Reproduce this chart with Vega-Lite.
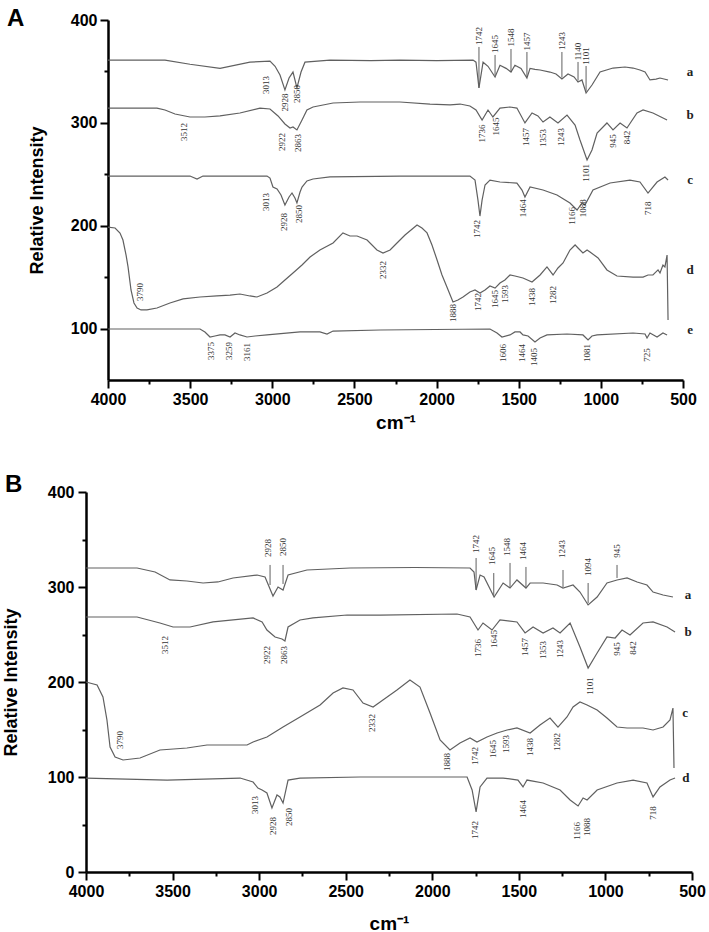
{
  "$schema": "https://vega.github.io/schema/vega-lite/v6.json",
  "padding": {"left": 2, "top": 7, "right": 0, "bottom": 0},
  "background": "white",
  "spacing": 41,
  "config": {
    "view": {"stroke": null},
    "axis": {"domainColor": "black", "domainWidth": 2.5, "tickColor": "black", "tickWidth": 2, "labelFont": "Liberation Sans", "labelFontWeight": "bold", "labelFontSize": 16, "labelColor": "black", "titleFont": "Liberation Sans", "titleFontWeight": "bold", "titleColor": "black", "grid": false, "labelOverlap": false, "labelFlush": false},
    "title": {"font": "Liberation Sans", "fontSize": 24, "fontWeight": "bold", "anchor": "start", "frame": "group", "color": "black", "baseline": "alphabetic"}
  },
  "datasets": {
    "A_lines": [
      {"s":"a","w":4000,"v":361},{"s":"a","w":3653,"v":361},{"s":"a","w":3501,"v":357},{"s":"a","w":3318,"v":353},{"s":"a","w":3136,"v":359},{"s":"a","w":3014,"v":360},{"s":"a","w":2983,"v":355},{"s":"a","w":2953,"v":346.5},{"s":"a","w":2923,"v":332},{"s":"a","w":2898,"v":343.6},{"s":"a","w":2874,"v":349.4},{"s":"a","w":2850,"v":334},{"s":"a","w":2825,"v":349.4},{"s":"a","w":2801,"v":359},{"s":"a","w":2649,"v":361},{"s":"a","w":2400,"v":360.5},{"s":"a","w":2223,"v":361},{"s":"a","w":2000,"v":360.5},{"s":"a","w":1778,"v":361},{"s":"a","w":1760,"v":359},{"s":"a","w":1742,"v":334},{"s":"a","w":1717,"v":359},{"s":"a","w":1687,"v":355},{"s":"a","w":1644,"v":344.6},{"s":"a","w":1614,"v":356},{"s":"a","w":1577,"v":353},{"s":"a","w":1547,"v":349.4},{"s":"a","w":1523,"v":356},{"s":"a","w":1486,"v":353},{"s":"a","w":1450,"v":343.6},{"s":"a","w":1431,"v":353},{"s":"a","w":1401,"v":352},{"s":"a","w":1370,"v":351.4},{"s":"a","w":1310,"v":349.4},{"s":"a","w":1273,"v":347.5},{"s":"a","w":1237,"v":342.6},{"s":"a","w":1200,"v":347.5},{"s":"a","w":1163,"v":344.6},{"s":"a","w":1139,"v":339.7},{"s":"a","w":1115,"v":341.7},{"s":"a","w":1090,"v":329},{"s":"a","w":1054,"v":336.8},{"s":"a","w":1005,"v":349.4},{"s":"a","w":926,"v":353.3},{"s":"a","w":853,"v":354.3},{"s":"a","w":804,"v":353.3},{"s":"a","w":762,"v":351.4},{"s":"a","w":731,"v":349.4},{"s":"a","w":701,"v":341.7},{"s":"a","w":664,"v":342.6},{"s":"a","w":640,"v":343.6},{"s":"a","w":591,"v":341.7},
      {"s":"b","w":4000,"v":314.4},{"s":"b","w":3702,"v":314.4},{"s":"b","w":3653,"v":312.5},{"s":"b","w":3592,"v":308.6},{"s":"b","w":3501,"v":305.7},{"s":"b","w":3410,"v":305.7},{"s":"b","w":3318,"v":306.7},{"s":"b","w":3197,"v":309.6},{"s":"b","w":3075,"v":314.4},{"s":"b","w":3014,"v":313.5},{"s":"b","w":2965,"v":306.7},{"s":"b","w":2923,"v":298.9},{"s":"b","w":2892,"v":295},{"s":"b","w":2874,"v":296},{"s":"b","w":2850,"v":293.1},{"s":"b","w":2819,"v":302.8},{"s":"b","w":2789,"v":312.5},{"s":"b","w":2752,"v":315.4},{"s":"b","w":2630,"v":319.3},{"s":"b","w":2466,"v":320.3},{"s":"b","w":2223,"v":320.3},{"s":"b","w":2040,"v":318.3},{"s":"b","w":1918,"v":317.4},{"s":"b","w":1857,"v":318.3},{"s":"b","w":1797,"v":316.4},{"s":"b","w":1760,"v":312.5},{"s":"b","w":1723,"v":302.8},{"s":"b","w":1687,"v":312.5},{"s":"b","w":1657,"v":305.7},{"s":"b","w":1614,"v":314.4},{"s":"b","w":1553,"v":315.4},{"s":"b","w":1511,"v":314.4},{"s":"b","w":1462,"v":299.9},{"s":"b","w":1419,"v":309.6},{"s":"b","w":1383,"v":306.7},{"s":"b","w":1352,"v":300.8},{"s":"b","w":1310,"v":305.7},{"s":"b","w":1261,"v":299.9},{"s":"b","w":1206,"v":307.6},{"s":"b","w":1157,"v":297.9},{"s":"b","w":1127,"v":283.3},{"s":"b","w":1084,"v":263.9},{"s":"b","w":1054,"v":273.6},{"s":"b","w":1023,"v":290.1},{"s":"b","w":963,"v":299.9},{"s":"b","w":926,"v":293.1},{"s":"b","w":883,"v":299.9},{"s":"b","w":841,"v":295},{"s":"b","w":780,"v":309.6},{"s":"b","w":743,"v":312.5},{"s":"b","w":683,"v":309.6},{"s":"b","w":597,"v":302.8},
      {"s":"c","w":4000,"v":248.3},{"s":"c","w":3501,"v":248.3},{"s":"c","w":3458,"v":245.4},{"s":"c","w":3422,"v":248.3},{"s":"c","w":3032,"v":248.3},{"s":"c","w":3014,"v":246.3},{"s":"c","w":2996,"v":237.6},{"s":"c","w":2971,"v":235.7},{"s":"c","w":2947,"v":229.9},{"s":"c","w":2923,"v":220.1},{"s":"c","w":2898,"v":227.9},{"s":"c","w":2880,"v":231.8},{"s":"c","w":2862,"v":226.9},{"s":"c","w":2850,"v":222.1},{"s":"c","w":2831,"v":232.8},{"s":"c","w":2819,"v":237.6},{"s":"c","w":2789,"v":243.5},{"s":"c","w":2752,"v":245.4},{"s":"c","w":2649,"v":247.4},{"s":"c","w":2223,"v":248.3},{"s":"c","w":1797,"v":248.3},{"s":"c","w":1766,"v":244.4},{"s":"c","w":1748,"v":224.9},{"s":"c","w":1736,"v":209.4},{"s":"c","w":1723,"v":224.9},{"s":"c","w":1705,"v":239.6},{"s":"c","w":1675,"v":244.4},{"s":"c","w":1614,"v":242.5},{"s":"c","w":1511,"v":241.5},{"s":"c","w":1480,"v":234.7},{"s":"c","w":1462,"v":227.9},{"s":"c","w":1431,"v":237.6},{"s":"c","w":1352,"v":234.7},{"s":"c","w":1267,"v":229.9},{"s":"c","w":1188,"v":222.1},{"s":"c","w":1145,"v":215.3},{"s":"c","w":1115,"v":222.1},{"s":"c","w":1097,"v":220.1},{"s":"c","w":1048,"v":234.7},{"s":"c","w":944,"v":241.5},{"s":"c","w":823,"v":244.4},{"s":"c","w":762,"v":242.5},{"s":"c","w":713,"v":231.8},{"s":"c","w":658,"v":242.5},{"s":"c","w":610,"v":247.4},{"s":"c","w":591,"v":244.4},
      {"s":"d","w":4000,"v":198.7},{"s":"d","w":3957,"v":197.8},{"s":"d","w":3927,"v":192.9},{"s":"d","w":3909,"v":186.1},{"s":"d","w":3890,"v":171.5},{"s":"d","w":3878,"v":159.9},{"s":"d","w":3860,"v":137.5},{"s":"d","w":3842,"v":124.9},{"s":"d","w":3823,"v":120},{"s":"d","w":3799,"v":118.1},{"s":"d","w":3763,"v":118.1},{"s":"d","w":3702,"v":120},{"s":"d","w":3623,"v":124.9},{"s":"d","w":3543,"v":128.8},{"s":"d","w":3440,"v":130.7},{"s":"d","w":3337,"v":131.7},{"s":"d","w":3257,"v":132.6},{"s":"d","w":3197,"v":133.6},{"s":"d","w":3136,"v":131.7},{"s":"d","w":3093,"v":130.7},{"s":"d","w":3032,"v":134.6},{"s":"d","w":2971,"v":140.4},{"s":"d","w":2923,"v":147.2},{"s":"d","w":2874,"v":154},{"s":"d","w":2819,"v":161.8},{"s":"d","w":2770,"v":169.6},{"s":"d","w":2710,"v":176.4},{"s":"d","w":2630,"v":183.2},{"s":"d","w":2570,"v":193},{"s":"d","w":2527,"v":190},{"s":"d","w":2484,"v":190},{"s":"d","w":2423,"v":186.1},{"s":"d","w":2363,"v":176.4},{"s":"d","w":2326,"v":173.5},{"s":"d","w":2283,"v":176.4},{"s":"d","w":2241,"v":183.2},{"s":"d","w":2192,"v":191},{"s":"d","w":2119,"v":200.7},{"s":"d","w":2089,"v":197.8},{"s":"d","w":2058,"v":193},{"s":"d","w":2028,"v":181.3},{"s":"d","w":1997,"v":166.7},{"s":"d","w":1967,"v":152.1},{"s":"d","w":1937,"v":140.4},{"s":"d","w":1900,"v":125.8},{"s":"d","w":1870,"v":127.7},{"s":"d","w":1839,"v":130.7},{"s":"d","w":1797,"v":135.6},{"s":"d","w":1766,"v":137.5},{"s":"d","w":1736,"v":134.6},{"s":"d","w":1705,"v":137.5},{"s":"d","w":1675,"v":141.4},{"s":"d","w":1644,"v":139.4},{"s":"d","w":1614,"v":144.3},{"s":"d","w":1584,"v":147.2},{"s":"d","w":1553,"v":152.1},{"s":"d","w":1523,"v":151.1},{"s":"d","w":1474,"v":149.2},{"s":"d","w":1419,"v":145.3},{"s":"d","w":1370,"v":152.1},{"s":"d","w":1328,"v":159.9},{"s":"d","w":1291,"v":152.1},{"s":"d","w":1261,"v":158.9},{"s":"d","w":1230,"v":163.8},{"s":"d","w":1188,"v":176.4},{"s":"d","w":1157,"v":181.3},{"s":"d","w":1139,"v":178.3},{"s":"d","w":1109,"v":173.5},{"s":"d","w":1084,"v":176.4},{"s":"d","w":1066,"v":174.5},{"s":"d","w":1017,"v":168.6},{"s":"d","w":963,"v":157},{"s":"d","w":902,"v":151.1},{"s":"d","w":804,"v":150.1},{"s":"d","w":743,"v":150.1},{"s":"d","w":713,"v":152.1},{"s":"d","w":683,"v":152.1},{"s":"d","w":652,"v":157},{"s":"d","w":640,"v":154},{"s":"d","w":622,"v":161.8},{"s":"d","w":610,"v":159.9},{"s":"d","w":597,"v":171.5},{"s":"d","w":591,"v":108.3},
      {"s":"e","w":4000,"v":99.6},{"s":"e","w":3744,"v":99.6},{"s":"e","w":3440,"v":99.6},{"s":"e","w":3410,"v":96.7},{"s":"e","w":3379,"v":91.8},{"s":"e","w":3349,"v":92.8},{"s":"e","w":3318,"v":93.8},{"s":"e","w":3288,"v":93.8},{"s":"e","w":3257,"v":91.8},{"s":"e","w":3227,"v":95.7},{"s":"e","w":3197,"v":93.8},{"s":"e","w":3154,"v":91.8},{"s":"e","w":3105,"v":92.8},{"s":"e","w":3032,"v":93.8},{"s":"e","w":2831,"v":96.7},{"s":"e","w":2710,"v":96.7},{"s":"e","w":2667,"v":94.7},{"s":"e","w":2630,"v":97.6},{"s":"e","w":2344,"v":98.6},{"s":"e","w":1675,"v":99.6},{"s":"e","w":1632,"v":95.7},{"s":"e","w":1602,"v":91.8},{"s":"e","w":1553,"v":93.8},{"s":"e","w":1523,"v":96.7},{"s":"e","w":1492,"v":96.7},{"s":"e","w":1474,"v":93.8},{"s":"e","w":1443,"v":92.8},{"s":"e","w":1401,"v":87},{"s":"e","w":1370,"v":90.8},{"s":"e","w":1328,"v":93.8},{"s":"e","w":1206,"v":94.7},{"s":"e","w":1109,"v":93.8},{"s":"e","w":1078,"v":89},{"s":"e","w":1054,"v":92.8},{"s":"e","w":1023,"v":93.8},{"s":"e","w":804,"v":95.7},{"s":"e","w":731,"v":94.7},{"s":"e","w":719,"v":90.8},{"s":"e","w":701,"v":95.7},{"s":"e","w":658,"v":91.8},{"s":"e","w":622,"v":95.7},{"s":"e","w":597,"v":93.8}
    ],
    "A_rules": [
      {"w":1742,"v":373.8,"v2":334},{"w":1644,"v":366,"v2":346.5},{"w":1547,"v":371.8,"v2":350},{"w":1450,"v":368.9,"v2":345},{"w":1237,"v":368.9,"v2":344},{"w":1139,"v":359.2,"v2":341},{"w":1090,"v":355.3,"v2":331}
    ],
    "A_labels": [
      {"t":"1742","w":1742,"v":384.4},{"t":"1645","w":1644,"v":376.7},{"t":"1548","w":1547,"v":383},{"t":"1457","w":1450,"v":379.1},{"t":"1243","w":1237,"v":379.6},{"t":"1140","w":1139,"v":369.4},{"t":"1101","w":1090,"v":365},{"t":"3013","w":3038,"v":336.8},{"t":"2928","w":2923,"v":319.8},{"t":"2850","w":2850,"v":328.1},
      {"t":"3512","w":3537,"v":291.1},{"t":"2922","w":2941,"v":281.4},{"t":"2863","w":2843,"v":280.4},{"t":"1736","w":1723,"v":289.7},{"t":"1645","w":1638,"v":296.5},{"t":"1457","w":1456,"v":286.3},{"t":"1353","w":1352,"v":285.3},{"t":"1243","w":1243,"v":286.3},{"t":"1101","w":1090,"v":251.3},{"t":"945","w":926,"v":282.4},{"t":"842","w":841,"v":285.8},
      {"t":"3013","w":3038,"v":223},{"t":"2928","w":2929,"v":203.6},{"t":"2850","w":2837,"v":211.4},{"t":"1742","w":1754,"v":196.8},{"t":"1464","w":1474,"v":217},{"t":"1166","w":1176,"v":209.5},{"t":"1088","w":1109,"v":217},{"t":"718","w":713,"v":217},
      {"t":"3790","w":3805,"v":135.6},{"t":"2332","w":2326,"v":157},{"t":"1888","w":1900,"v":115.2},{"t":"1742","w":1748,"v":125.8},{"t":"1645","w":1644,"v":128.8},{"t":"1593","w":1584,"v":133.6},{"t":"1438","w":1419,"v":130.7},{"t":"1282","w":1291,"v":132.6},
      {"t":"3375","w":3373,"v":78.2},{"t":"3259","w":3263,"v":78.2},{"t":"3161","w":3154,"v":77.2},{"t":"1606","w":1596,"v":76.2},{"t":"1464","w":1480,"v":76.2},{"t":"1405","w":1405,"v":72.4},{"t":"1081","w":1084,"v":76.2},{"t":"725","w":719,"v":74.3}
    ],
    "A_series": [
      {"t":"a","w":457,"v":349.4},{"t":"b","w":457,"v":307.6},{"t":"c","w":457,"v":244.4},{"t":"d","w":457,"v":157},{"t":"e","w":457,"v":98.6}
    ],
    "B_lines": [
      {"s":"a","w":4000,"v":320},{"s":"a","w":3705,"v":320},{"s":"a","w":3601,"v":315.8},{"s":"a","w":3515,"v":307.4},{"s":"a","w":3417,"v":306.3},{"s":"a","w":3324,"v":304.2},{"s":"a","w":3238,"v":305.3},{"s":"a","w":3151,"v":309.5},{"s":"a","w":3012,"v":312.6},{"s":"a","w":2966,"v":310.5},{"s":"a","w":2920,"v":290.5},{"s":"a","w":2891,"v":300},{"s":"a","w":2862,"v":296.8},{"s":"a","w":2833,"v":312.6},{"s":"a","w":2724,"v":317.9},{"s":"a","w":2475,"v":320},{"s":"a","w":2100,"v":320.5},{"s":"a","w":1782,"v":320},{"s":"a","w":1759,"v":315.8},{"s":"a","w":1747,"v":296.8},{"s":"a","w":1724,"v":312.6},{"s":"a","w":1701,"v":310.5},{"s":"a","w":1643,"v":289.5},{"s":"a","w":1591,"v":304.2},{"s":"a","w":1551,"v":298.9},{"s":"a","w":1511,"v":307.4},{"s":"a","w":1459,"v":298.9},{"s":"a","w":1435,"v":304.2},{"s":"a","w":1360,"v":304.2},{"s":"a","w":1279,"v":302.1},{"s":"a","w":1245,"v":298.9},{"s":"a","w":1187,"v":302.1},{"s":"a","w":1147,"v":294.7},{"s":"a","w":1100,"v":281.1},{"s":"a","w":1048,"v":289.5},{"s":"a","w":991,"v":304.2},{"s":"a","w":933,"v":307.4},{"s":"a","w":875,"v":309.5},{"s":"a","w":817,"v":305.3},{"s":"a","w":760,"v":302.1},{"s":"a","w":725,"v":294.7},{"s":"a","w":667,"v":291.6},{"s":"a","w":610,"v":289.5},
      {"s":"b","w":4000,"v":268.4},{"s":"b","w":3705,"v":268.4},{"s":"b","w":3573,"v":262.1},{"s":"b","w":3497,"v":257.9},{"s":"b","w":3399,"v":257.9},{"s":"b","w":3266,"v":263.2},{"s":"b","w":3035,"v":267.4},{"s":"b","w":2983,"v":263.2},{"s":"b","w":2955,"v":254.7},{"s":"b","w":2908,"v":247.4},{"s":"b","w":2868,"v":245.3},{"s":"b","w":2851,"v":243.2},{"s":"b","w":2833,"v":257.9},{"s":"b","w":2764,"v":265.3},{"s":"b","w":2689,"v":267.4},{"s":"b","w":2492,"v":270.5},{"s":"b","w":2302,"v":270.5},{"s":"b","w":1857,"v":271.6},{"s":"b","w":1782,"v":268.4},{"s":"b","w":1736,"v":254.7},{"s":"b","w":1707,"v":262.1},{"s":"b","w":1655,"v":254.7},{"s":"b","w":1609,"v":265.3},{"s":"b","w":1511,"v":263.2},{"s":"b","w":1464,"v":251.6},{"s":"b","w":1418,"v":257.9},{"s":"b","w":1360,"v":251.6},{"s":"b","w":1303,"v":256.8},{"s":"b","w":1262,"v":251.6},{"s":"b","w":1204,"v":262.1},{"s":"b","w":1147,"v":236.8},{"s":"b","w":1100,"v":214.7},{"s":"b","w":1048,"v":230.5},{"s":"b","w":991,"v":247.4},{"s":"b","w":944,"v":246.3},{"s":"b","w":904,"v":254.7},{"s":"b","w":858,"v":249.5},{"s":"b","w":783,"v":262.1},{"s":"b","w":725,"v":263.2},{"s":"b","w":644,"v":257.9},{"s":"b","w":598,"v":252.6},
      {"s":"c","w":4000,"v":200},{"s":"c","w":3936,"v":196.8},{"s":"c","w":3902,"v":184.2},{"s":"c","w":3879,"v":160},{"s":"c","w":3861,"v":131.6},{"s":"c","w":3832,"v":121.1},{"s":"c","w":3786,"v":117.9},{"s":"c","w":3688,"v":120},{"s":"c","w":3573,"v":128.4},{"s":"c","w":3417,"v":130.5},{"s":"c","w":3301,"v":133.7},{"s":"c","w":3151,"v":133.7},{"s":"c","w":3070,"v":133.7},{"s":"c","w":3035,"v":136.8},{"s":"c","w":2955,"v":142.1},{"s":"c","w":2862,"v":152.6},{"s":"c","w":2764,"v":163.2},{"s":"c","w":2648,"v":175.8},{"s":"c","w":2573,"v":188.4},{"s":"c","w":2516,"v":193.7},{"s":"c","w":2458,"v":191.6},{"s":"c","w":2400,"v":177.9},{"s":"c","w":2342,"v":173.7},{"s":"c","w":2285,"v":181.1},{"s":"c","w":2204,"v":191.6},{"s":"c","w":2129,"v":202.1},{"s":"c","w":2071,"v":194.7},{"s":"c","w":2013,"v":167.4},{"s":"c","w":1955,"v":138.9},{"s":"c","w":1898,"v":128.4},{"s":"c","w":1840,"v":135.8},{"s":"c","w":1782,"v":141.1},{"s":"c","w":1742,"v":136.8},{"s":"c","w":1684,"v":142.1},{"s":"c","w":1626,"v":146.3},{"s":"c","w":1568,"v":149.5},{"s":"c","w":1511,"v":151.6},{"s":"c","w":1435,"v":146.3},{"s":"c","w":1378,"v":154.7},{"s":"c","w":1320,"v":162.1},{"s":"c","w":1274,"v":152.6},{"s":"c","w":1222,"v":163.2},{"s":"c","w":1187,"v":173.7},{"s":"c","w":1147,"v":178.9},{"s":"c","w":1106,"v":175.8},{"s":"c","w":1048,"v":170.5},{"s":"c","w":991,"v":162.1},{"s":"c","w":933,"v":152.6},{"s":"c","w":875,"v":151.6},{"s":"c","w":783,"v":151.6},{"s":"c","w":725,"v":149.5},{"s":"c","w":667,"v":152.6},{"s":"c","w":627,"v":160},{"s":"c","w":610,"v":172.6},{"s":"c","w":604,"v":109.5},
      {"s":"d","w":4000,"v":98.9},{"s":"d","w":3532,"v":96.8},{"s":"d","w":3110,"v":98.9},{"s":"d","w":3035,"v":94.7},{"s":"d","w":3007,"v":88.4},{"s":"d","w":2983,"v":86.3},{"s":"d","w":2955,"v":83.2},{"s":"d","w":2926,"v":67.4},{"s":"d","w":2897,"v":81.1},{"s":"d","w":2880,"v":79},{"s":"d","w":2862,"v":72.6},{"s":"d","w":2833,"v":96.8},{"s":"d","w":2764,"v":98.9},{"s":"d","w":2417,"v":100},{"s":"d","w":1799,"v":100},{"s":"d","w":1770,"v":86.3},{"s":"d","w":1747,"v":63.2},{"s":"d","w":1724,"v":89.5},{"s":"d","w":1684,"v":98.9},{"s":"d","w":1591,"v":98.9},{"s":"d","w":1505,"v":96.8},{"s":"d","w":1476,"v":89.5},{"s":"d","w":1453,"v":96.8},{"s":"d","w":1360,"v":93.7},{"s":"d","w":1262,"v":86.3},{"s":"d","w":1204,"v":75.8},{"s":"d","w":1158,"v":69.5},{"s":"d","w":1129,"v":77.9},{"s":"d","w":1106,"v":75.8},{"s":"d","w":1048,"v":86.3},{"s":"d","w":933,"v":93.7},{"s":"d","w":840,"v":96.8},{"s":"d","w":760,"v":93.7},{"s":"d","w":725,"v":79},{"s":"d","w":685,"v":89.5},{"s":"d","w":627,"v":96.8},{"s":"d","w":598,"v":98.9}
    ],
    "B_rules": [
      {"w":2937,"v":323.2,"v2":302.1},{"w":2862,"v":323.2,"v2":303.2},{"w":1747,"v":330.5,"v2":297},{"w":1645,"v":314.7,"v2":291.6},{"w":1551,"v":325.3,"v2":300},{"w":1459,"v":321.1,"v2":300},{"w":1245,"v":317.9,"v2":300},{"w":1100,"v":304.2,"v2":283},{"w":933,"v":323.2,"v2":309.5}
    ],
    "B_labels": [
      {"t":"2928","w":2949,"v":341},{"t":"2850","w":2862,"v":342.1},{"t":"1742","w":1747,"v":345.3},{"t":"1645","w":1655,"v":332.6},{"t":"1548","w":1568,"v":342.1},{"t":"1464","w":1476,"v":337.9},{"t":"1243","w":1251,"v":340},{"t":"1094","w":1100,"v":321.1},{"t":"945","w":933,"v":337.9},
      {"t":"3512","w":3544,"v":239},{"t":"2922","w":2955,"v":228.4},{"t":"2863","w":2856,"v":228.4},{"t":"1736","w":1736,"v":235.8},{"t":"1645","w":1643,"v":245.3},{"t":"1457","w":1464,"v":236.8},{"t":"1353","w":1360,"v":233.7},{"t":"1243","w":1262,"v":234.7},{"t":"1101","w":1089,"v":195.8},{"t":"945","w":933,"v":234.7},{"t":"842","w":840,"v":235.8},
      {"t":"3790","w":3804,"v":138.9},{"t":"2332","w":2348,"v":156.8},{"t":"1888","w":1915,"v":115.8},{"t":"1742","w":1753,"v":122.1},{"t":"1645","w":1649,"v":129.5},{"t":"1593","w":1574,"v":134.7},{"t":"1438","w":1435,"v":131.6},{"t":"1282","w":1279,"v":136.8},
      {"t":"3013","w":3024,"v":70.5},{"t":"2928","w":2920,"v":48.4},{"t":"2850","w":2827,"v":57.9},{"t":"1742","w":1753,"v":44.2},{"t":"1464","w":1476,"v":66.3},{"t":"1166","w":1164,"v":43.2},{"t":"1088","w":1106,"v":47.4},{"t":"718","w":725,"v":62.1}
    ],
    "B_series": [
      {"t":"a","w":523,"v":291.6},{"t":"b","w":523,"v":252.6},{"t":"c","w":540,"v":167.4},{"t":"d","w":535,"v":98.9}
    ]
  },
  "vconcat": [
    {
      "width": 597,
      "height": 360,
      "title": {"text": "A", "dx": -79, "offset": -19},
      "encoding": {
        "x": {"field": "w", "type": "quantitative", "title": "cm⁻¹",
          "scale": {"domain": [500, 4000], "reverse": true, "nice": false, "zero": false, "range": [22, 597]},
          "axis": {"values": [4000,3750,3500,3250,3000,2750,2500,2250,2000,1750,1500,1250,1000,750,500], "format": "d", "labelExpr": "datum.value % 500 === 0 ? datum.label : ''", "tickSize": {"condition": {"test": "datum.value % 500 === 0", "value": 8}, "value": 4}, "labelPadding": 3, "titleFontSize": 19, "titlePadding": 6}},
        "y": {"field": "v", "type": "quantitative", "title": "Relative Intensity",
          "scale": {"domain": [50, 400], "nice": false, "zero": false},
          "axis": {"offset": -22, "values": [100,150,200,250,300,350,400], "format": "d", "labelExpr": "datum.value % 100 === 0 ? datum.label : ''", "tickSize": {"condition": {"test": "datum.value % 100 === 0", "value": 8}, "value": 4}, "labelPadding": 3, "titleFontSize": 18, "titlePadding": 24}}
      },
      "layer": [
        {"data": {"name": "A_lines"}, "mark": {"type": "line", "color": "#606060", "strokeWidth": 1.2}, "encoding": {"detail": {"field": "s"}}},
        {"data": {"name": "A_rules"}, "mark": {"type": "rule", "color": "#606060", "strokeWidth": 1}, "encoding": {"y2": {"field": "v2"}}},
        {"data": {"name": "A_labels"}, "mark": {"type": "text", "angle": 270, "font": "Liberation Serif", "fontSize": 9, "color": "#333333", "align": "center", "baseline": "middle"}, "encoding": {"text": {"field": "t"}}},
        {"data": {"name": "A_series"}, "mark": {"type": "text", "font": "Liberation Serif", "fontWeight": "bold", "fontSize": 13, "color": "#222222", "align": "center", "baseline": "middle"}, "encoding": {"text": {"field": "t"}}}
      ]
    },
    {
      "width": 606,
      "height": 380,
      "title": {"text": "B", "dx": -81, "offset": -13},
      "encoding": {
        "x": {"field": "w", "type": "quantitative", "title": "cm⁻¹",
          "scale": {"domain": [500, 4000], "reverse": true, "nice": false, "zero": false},
          "axis": {"values": [4000,3750,3500,3250,3000,2750,2500,2250,2000,1750,1500,1250,1000,750,500], "format": "d", "labelExpr": "datum.value % 500 === 0 ? datum.label : ''", "tickSize": {"condition": {"test": "datum.value % 500 === 0", "value": 8}, "value": 4}, "labelPadding": 3, "titleFontSize": 19, "titlePadding": 15}},
        "y": {"field": "v", "type": "quantitative", "title": "Relative Intensity",
          "scale": {"domain": [0, 400], "nice": false, "zero": false},
          "axis": {"values": [0,50,100,150,200,250,300,350,400], "format": "d", "labelExpr": "datum.value % 100 === 0 ? datum.label : ''", "tickSize": {"condition": {"test": "datum.value % 100 === 0", "value": 8}, "value": 4}, "labelPadding": 4, "titleFontSize": 18, "titlePadding": 27}}
      },
      "layer": [
        {"data": {"name": "B_lines"}, "mark": {"type": "line", "color": "#606060", "strokeWidth": 1.2}, "encoding": {"detail": {"field": "s"}}},
        {"data": {"name": "B_rules"}, "mark": {"type": "rule", "color": "#606060", "strokeWidth": 1}, "encoding": {"y2": {"field": "v2"}}},
        {"data": {"name": "B_labels"}, "mark": {"type": "text", "angle": 270, "font": "Liberation Serif", "fontSize": 9, "color": "#333333", "align": "center", "baseline": "middle"}, "encoding": {"text": {"field": "t"}}},
        {"data": {"name": "B_series"}, "mark": {"type": "text", "font": "Liberation Serif", "fontWeight": "bold", "fontSize": 13, "color": "#222222", "align": "center", "baseline": "middle"}, "encoding": {"text": {"field": "t"}}}
      ]
    }
  ]
}
